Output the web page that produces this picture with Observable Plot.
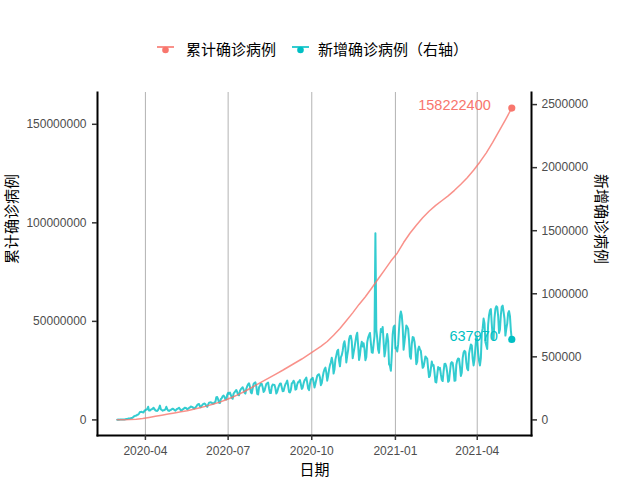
<!DOCTYPE html>
<html>
<head>
<meta charset="utf-8">
<script src="https://cdn.jsdelivr.net/npm/d3@7"></script>
<script src="https://cdn.jsdelivr.net/npm/@observablehq/plot@0.6"></script>
<style>
  html, body { margin: 0; padding: 0; background: #fff; }
  #wrap { position: relative; width: 640px; height: 480px; overflow: hidden; }
  #legend { position: relative; height: 80px; width: 640px; font-family: "Noto Sans CJK SC", sans-serif; font-size: 15px; color: #000; }
  .key { position: absolute; top: 40px; width: 17px; height: 17px; }
  .lab { position: absolute; top: 39px; line-height: 20px; white-space: nowrap; }
</style>
</head>
<body>
<div id="wrap">
  <div id="legend"></div>
  <div id="chart"></div>
</div>
<script>
// ---------------- data ----------------
const startDate = "2020-03-01";            // first day of both series
const seriesNames = ["累计确诊病例", "新增确诊病例（右轴）"];
const seriesColors = ["#F8766D", "#00BFC4"];
const xTitle = "日期";
const yLeftTitle = "累计确诊病例";
const yRightTitle = "新增确诊病例";
const xTickDates = ["2020-04-01", "2020-07-01", "2020-10-01", "2021-01-01", "2021-04-01"];
const yLeftTicks = [0, 50000000, 100000000, 150000000];
const yRightTicks = [0, 500000, 1000000, 1500000, 2000000, 2500000];
const secAxisFactor = 64;                  // left value = right value * factor

// daily new confirmed cases (thousands), one value per day starting 2020-03-01
const newCasesK = [
  1.8, 2.4, 1.9, 2.4, 2.6, 4.0, 3.9,
  4.0, 4.2, 4.6, 7.3, 6.9, 10.6, 10.9,
  11.0, 13.6, 14.5, 18.1, 25.5, 30.0, 32.8,
  33.9, 40.3, 42.0, 50.1, 62.6, 62.3, 64.2,
  59.8, 59.5, 74.0, 76.2, 82.7, 84.8, 104.0,
  75.1, 73.7, 81.6, 84.7, 88.4, 96.7, 84.3,
  76.4, 72.5, 71.1, 80.0, 94.6, 113.0, 83.6,
  78.9, 73.6, 76.1, 78.4, 84.7, 104.2, 85.1,
  74.5, 70.9, 77.0, 79.4, 85.3, 88.6, 84.9,
  78.6, 73.2, 81.8, 87.5, 90.1, 96.6, 86.1,
  74.6, 76.1, 85.1, 86.9, 95.9, 96.2, 92.4,
  84.3, 88.6, 94.7, 98.6, 106.3, 103.7, 100.4,
  92.2, 91.3, 99.0, 105.5, 117.6, 124.3, 125.8,
  106.3, 100.7, 113.3, 121.6, 127.5, 130.4, 124.2,
  110.1, 103.2, 121.2, 136.5, 138.8, 139.1, 136.4,
  128.5, 129.8, 139.4, 143.1, 179.7, 181.3, 163.4,
  135.7, 134.5, 166.1, 172.3, 187.5, 192.7, 183.2,
  163.3, 161.6, 199.7, 214.3, 207.0, 216.4, 197.3,
  175.2, 168.0, 209.3, 218.6, 227.5, 237.6, 219.8,
  199.0, 195.1, 228.8, 244.1, 251.3, 258.6, 241.8,
  216.2, 208.4, 247.1, 267.3, 283.7, 290.2, 262.5,
  217.9, 210.6, 251.1, 285.4, 293.9, 297.6, 265.5,
  206.7, 202.2, 258.8, 271.3, 287.2, 284.4, 258.6,
  221.0, 231.4, 259.7, 284.9, 290.6, 296.1, 249.5,
  213.8, 212.7, 264.8, 280.3, 278.1, 276.9, 251.1,
  208.5, 222.4, 249.8, 271.6, 286.4, 289.3, 258.0,
  227.8, 228.7, 259.0, 282.7, 295.2, 311.9, 270.6,
  222.5, 217.4, 238.4, 289.6, 294.7, 310.5, 294.2,
  240.1, 243.9, 281.6, 299.1, 303.8, 315.5, 282.6,
  245.7, 256.1, 289.4, 313.3, 323.6, 335.1, 295.3,
  248.9, 236.5, 286.2, 321.2, 323.6, 333.9, 300.1,
  257.6, 286.4, 318.1, 349.6, 359.4, 362.1, 336.5,
  275.3, 291.0, 339.6, 378.1, 401.6, 414.4, 374.5,
  311.0, 348.6, 397.4, 434.0, 457.3, 493.1, 453.6,
  367.5, 402.0, 478.1, 511.6, 545.6, 556.8, 470.4,
  424.7, 495.6, 512.9, 547.1, 601.7, 623.4, 573.6,
  456.0, 509.7, 553.9, 637.2, 666.1, 666.6, 622.8,
  489.2, 531.0, 573.0, 621.1, 667.4, 690.7, 591.4,
  475.4, 514.7, 580.2, 619.4, 582.3, 608.2, 560.9,
  473.3, 499.5, 616.9, 652.6, 672.3, 689.7, 609.6,
  534.9, 532.0, 598.8, 664.6, 1480.0, 716.3, 648.1,
  557.8, 531.5, 635.5, 721.3, 697.9, 736.5, 623.1,
  503.6, 550.9, 633.6, 681.0, 627.0, 441.2, 428.7,
  389.0, 513.4, 678.9, 737.0, 747.6, 566.3, 573.4,
  542.3, 598.6, 723.2, 820.3, 860.0, 827.4, 740.7,
  557.0, 619.3, 683.7, 747.6, 737.5, 722.1, 634.2,
  503.4, 485.1, 599.9, 656.7, 653.5, 620.2, 557.1,
  441.8, 461.7, 559.1, 581.0, 558.6, 546.5, 476.1,
  412.6, 423.1, 461.1, 503.6, 494.4, 483.7, 406.3,
  339.3, 350.6, 406.1, 462.8, 430.3, 434.4, 376.9,
  301.5, 296.9, 357.4, 418.6, 402.3, 412.7, 361.9,
  318.4, 308.0, 385.6, 443.5, 445.7, 422.7, 375.9,
  302.1, 311.7, 382.0, 448.7, 457.7, 450.7, 393.8,
  309.7, 311.3, 436.1, 471.5, 487.3, 484.1, 424.7,
  348.5, 374.1, 489.9, 535.3, 547.9, 538.9, 454.2,
  405.5, 394.3, 525.4, 564.5, 597.6, 590.8, 485.7,
  432.0, 477.4, 571.8, 663.5, 637.2, 531.7, 469.2,
  431.6, 489.0, 684.8, 727.2, 803.4, 764.5, 618.3,
  590.3, 562.4, 755.8, 830.4, 868.0, 878.4, 760.1,
  651.8, 637.0, 807.3, 880.7, 900.9, 893.5, 825.3,
  688.8, 717.7, 833.1, 898.5, 905.7, 856.9, 801.4,
  668.3, 724.3, 763.7, 846.1, 862.6, 823.0, 708.9,
  637.97
];

// cumulative confirmed cases (millions), one value per week starting 2020-03-01
const cumWeeklyM = [
  0.088, 0.110, 0.169, 0.337, 0.723,
  1.272, 1.853, 2.405, 2.971,
  3.507, 4.100, 4.700, 5.400, 6.200,
  7.000, 7.900, 8.900, 10.100,
  11.400, 12.800, 14.400, 16.200,
  18.000, 19.800, 21.600, 23.400, 25.200,
  27.100, 29.000, 30.900, 33.000,
  35.100, 37.300, 39.800, 43.000,
  46.400, 50.300, 54.300, 58.600, 62.500,
  66.900, 71.500, 76.000, 80.600,
  84.600, 90.000, 94.700, 98.800, 102.600,
  105.900, 108.700, 111.200, 113.700,
  116.500, 119.600, 122.900, 126.700,
  130.900, 135.500, 140.800, 146.500,
  152.300, 158.2224
];

// ---------------- build tables ----------------
const day0 = new Date(startDate + "T00:00:00Z");
const newCases = newCasesK.map((v, i) => ({date: d3.utcDay.offset(day0, i), value: Math.round(v * 1000)}));
const cumCases = cumWeeklyM.map((v, i) => ({date: d3.utcDay.offset(day0, 7 * i), value: Math.round(v * 1e6)}));
const lastNew = [newCases[newCases.length - 1]];
const lastCum = [cumCases[cumCases.length - 1]];

// ggplot-like 5% expansion
const [dMin, dMax] = d3.extent(newCases.concat(cumCases), d => d.date);
const dSpan = dMax - dMin;
const xDomain = [new Date(+dMin - 0.05 * dSpan), new Date(+dMax + 0.05 * dSpan)];
const yMax = Math.max(d3.max(cumCases, d => d.value), d3.max(newCases, d => d.value * secAxisFactor));
const yDomain = [-0.05 * yMax, yMax * 1.05];

const sans = "'Liberation Sans', Arial, sans-serif";
const cjk = "'Noto Sans CJK SC', sans-serif";
const tickCol = "#4d4d4d";

// ---------------- legend ----------------
const legend = document.getElementById("legend");
const keyX = [157, 292], labX = [186, 318];
seriesNames.forEach((name, i) => {
  const key = document.createElement("div");
  key.className = "key";
  key.style.left = keyX[i] + "px";
  key.innerHTML = `<svg width="17" height="17"><line x1="0" x2="17" y1="7" y2="7" stroke="${seriesColors[i]}" stroke-opacity="0.8" stroke-width="2"/><circle cx="8.5" cy="10" r="3.3" fill="${seriesColors[i]}"/></svg>`;
  legend.appendChild(key);
  const lab = document.createElement("div");
  lab.className = "lab";
  lab.style.left = labX[i] + "px";
  lab.textContent = name;
  legend.appendChild(lab);
});

// ---------------- chart ----------------
const chart = Plot.plot({
  width: 640,
  height: 400,
  marginLeft: 97,
  marginRight: 109,
  marginTop: 12,
  marginBottom: 45,
  style: {fontFamily: sans, fontSize: "12px", background: "white", color: "#000"},
  x: {type: "utc", domain: xDomain},
  y: {domain: yDomain},
  marks: [
    Plot.gridX(xTickDates.map(d => new Date(d + "T00:00:00Z")), {stroke: "#b3b3b3", strokeOpacity: 1, strokeWidth: 1}),
    Plot.lineY(newCases, {x: "date", y: d => d.value * secAxisFactor, stroke: seriesColors[1], strokeOpacity: 0.8, strokeWidth: 2}),
    Plot.lineY(cumCases, {x: "date", y: "value", stroke: seriesColors[0], strokeOpacity: 0.8, strokeWidth: 1.5}),
    Plot.dot(lastCum, {x: "date", y: "value", r: 3.6, fill: seriesColors[0]}),
    Plot.dot(lastNew, {x: "date", y: d => d.value * secAxisFactor, r: 3.6, fill: seriesColors[1]}),
    Plot.text(lastCum, {x: "date", y: "value", text: d => String(d.value), textAnchor: "end", dx: -21, dy: -3, fill: seriesColors[0], fontSize: 14.5, fontFamily: sans}),
    Plot.text(lastNew, {x: "date", y: d => d.value * secAxisFactor, text: d => String(d.value), textAnchor: "end", dx: -14, dy: -3, fill: seriesColors[1], fontSize: 14.5, fontFamily: sans}),
    Plot.frame({anchor: "left", stroke: "#000", strokeWidth: 2}),
    Plot.frame({anchor: "right", stroke: "#000", strokeWidth: 2}),
    Plot.frame({anchor: "bottom", stroke: "#000", strokeWidth: 2}),
    Plot.axisX(xTickDates.map(d => new Date(d + "T00:00:00Z")), {
      tickFormat: d3.utcFormat("%Y-%m"), tickSize: 5, tickPadding: 6, stroke: "#333", strokeWidth: 1.5,
      fill: tickCol, label: null, fontSize: 12
    }),
    Plot.axisY(yLeftTicks, {
      anchor: "left", tickFormat: d => String(d), tickSize: 5, tickPadding: 6, stroke: "#333", strokeWidth: 1.5,
      fill: tickCol, label: null, fontSize: 12
    }),
    Plot.axisY(yRightTicks, {
      anchor: "right", y: d => d * secAxisFactor, tickFormat: d => String(d), tickSize: 5, tickPadding: 5,
      stroke: "#333", strokeWidth: 1.5, fill: tickCol, label: null, fontSize: 12
    }),
    Plot.text([xTitle], {frameAnchor: "bottom", dy: 39, fontSize: 15, fontFamily: cjk, fill: "#000"}),
    Plot.text([yLeftTitle], {frameAnchor: "left", dx: -85, rotate: -90, fontSize: 15, fontFamily: cjk, fill: "#000"}),
    Plot.text([yRightTitle], {frameAnchor: "right", dx: 69, rotate: 90, fontSize: 15, fontFamily: cjk, fill: "#000"})
  ]
});
document.getElementById("chart").appendChild(chart);
</script>
</body>
</html>
